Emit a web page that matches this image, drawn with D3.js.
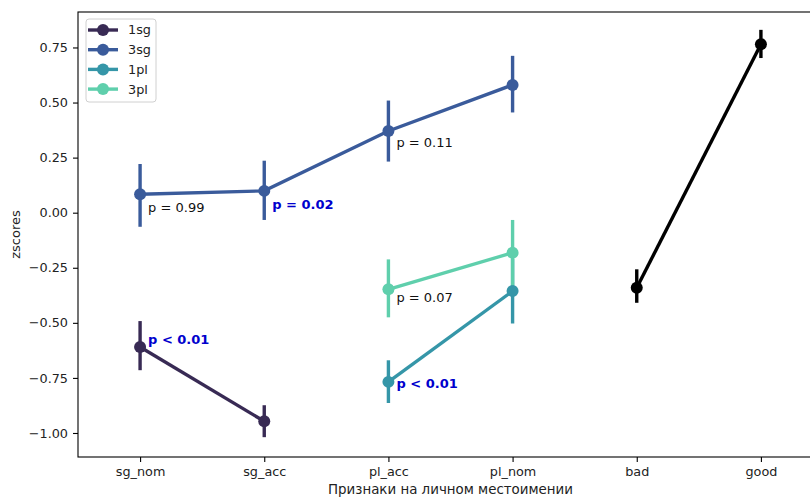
<!DOCTYPE html>
<html>
<head>
<meta charset="utf-8">
<script src="https://cdn.jsdelivr.net/npm/d3@7/dist/d3.min.js"></script>
<style>
  body { margin: 0; background: #fff; }
  text { font-family: "DejaVu Sans", sans-serif; }
</style>
</head>
<body>
<div id="chart"></div>
<script>
// categories on the x axis
var categories = ["sg_nom", "sg_acc", "pl_acc", "pl_nom", "bad", "good"];
var yTicks = [-1.00, -0.75, -0.50, -0.25, 0.00, 0.25, 0.50, 0.75];

// series: categories, means and CI bounds
var seriesNames = ["1sg", "3sg", "1pl", "3pl"];
var sg1Cats = ["sg_nom", "sg_acc"];
var sg1Mean = [-0.610, -0.947];
var sg1Low = [-0.715, -1.019];
var sg1High = [-0.492, -0.874];

var sg3Cats = ["sg_nom", "sg_acc", "pl_acc", "pl_nom"];
var sg3Mean = [0.084, 0.099, 0.371, 0.580];
var sg3Low = [-0.064, -0.033, 0.232, 0.455];
var sg3High = [0.221, 0.236, 0.509, 0.712];

var pl1Cats = ["pl_acc", "pl_nom"];
var pl1Mean = [-0.768, -0.356];
var pl1Low = [-0.864, -0.503];
var pl1High = [-0.670, -0.210];

var pl3Cats = ["pl_acc", "pl_nom"];
var pl3Mean = [-0.348, -0.182];
var pl3Low = [-0.475, -0.329];
var pl3High = [-0.212, -0.033];

var judgeCats = ["bad", "good"];
var judgeMean = [-0.341, 0.765];
var judgeLow = [-0.409, 0.702];
var judgeHigh = [-0.257, 0.830];

// p-value annotations (category, y value of baseline)
var noteText = ["p = 0.99", "p = 0.02", "p = 0.11", "p = 0.07", "p < 0.01", "p < 0.01"];
var noteCat = ["sg_nom", "sg_acc", "pl_acc", "pl_acc", "pl_acc", "sg_nom"];
var noteY = [0.003, 0.017, 0.30, -0.405, -0.797, -0.597];
var noteSig = [false, true, false, false, true, true];

var colors = ["#382a54", "#3a5b9b", "#3596a8", "#5fcfac"];

var svgWidth = 810;
var svgHeight = 497;
var margin = { top: 12, right: -13, bottom: 40, left: 78 };
var chartWidth = svgWidth - margin.left - margin.right;
var chartHeight = svgHeight - margin.top - margin.bottom;

var svg = d3.select("#chart")
  .append("svg")
  .attr("width", svgWidth)
  .attr("height", svgHeight);

var chart = svg.append("g")
  .attr("transform", `translate(${margin.left}, ${margin.top})`);

var x = d3.scalePoint()
  .domain(categories)
  .range([0, chartWidth])
  .padding(0.5);

var y = d3.scaleLinear()
  .domain([-1.109, 0.911])
  .range([chartHeight, 0]);

var fmt = function(d) { return d3.format(".2f")(d).replace("-", "\u2212"); };

// axes
var xAxis = chart.append("g")
  .attr("transform", `translate(0, ${chartHeight})`)
  .call(d3.axisBottom(x).tickSize(5).tickPadding(5));
var yAxis = chart.append("g")
  .call(d3.axisLeft(y).tickValues(yTicks).tickFormat(fmt).tickSize(5).tickPadding(5));

[xAxis, yAxis].forEach(function(a) {
  a.select(".domain").remove();
  a.selectAll("line").attr("stroke", "#000").attr("stroke-width", 1.1);
  a.selectAll("text").attr("fill", "#222").style("font-size", "12.8px")
    .style("font-family", "DejaVu Sans");
});

// frame
chart.append("rect")
  .attr("x", 0).attr("y", 0)
  .attr("width", chartWidth).attr("height", chartHeight)
  .attr("fill", "none").attr("stroke", "#000").attr("stroke-width", 1.1);

function drawSeries(cats, mean, low, high, color) {
  var pts = cats.map(function(c, i) {
    return { c: c, m: mean[i], lo: low[i], hi: high[i] };
  });
  var g = chart.append("g");
  g.selectAll("line.err")
    .data(pts)
    .enter().append("line")
      .attr("x1", function(d) { return x(d.c); })
      .attr("x2", function(d) { return x(d.c); })
      .attr("y1", function(d) { return y(d.lo); })
      .attr("y2", function(d) { return y(d.hi); })
      .attr("stroke", color)
      .attr("stroke-width", 3.4);
  g.append("path")
    .datum(pts)
    .attr("fill", "none")
    .attr("stroke", color)
    .attr("stroke-width", 3.4)
    .attr("d", d3.line().x(function(d) { return x(d.c); }).y(function(d) { return y(d.m); }));
  g.selectAll("circle")
    .data(pts)
    .enter().append("circle")
      .attr("cx", function(d) { return x(d.c); })
      .attr("cy", function(d) { return y(d.m); })
      .attr("r", 6)
      .attr("fill", color);
}

drawSeries(sg1Cats, sg1Mean, sg1Low, sg1High, colors[0]);
drawSeries(sg3Cats, sg3Mean, sg3Low, sg3High, colors[1]);
drawSeries(pl1Cats, pl1Mean, pl1Low, pl1High, colors[2]);
drawSeries(pl3Cats, pl3Mean, pl3Low, pl3High, colors[3]);
drawSeries(judgeCats, judgeMean, judgeLow, judgeHigh, "#000");

// annotations
noteText.forEach(function(t, i) {
  chart.append("text")
    .attr("x", x(noteCat[i]) + 8)
    .attr("y", y(noteY[i]))
    .style("font-size", "13px")
    .style("font-weight", noteSig[i] ? "bold" : "normal")
    .attr("fill", noteSig[i] ? "#0000cd" : "#111")
    .text(t);
});

// legend
var legend = chart.append("g").attr("transform", "translate(8, 7)");
legend.append("rect")
  .attr("width", 70).attr("height", 83)
  .attr("rx", 3)
  .attr("fill", "#fff").attr("fill-opacity", 0.8)
  .attr("stroke", "#d0d0d0");
seriesNames.forEach(function(name, i) {
  var row = legend.append("g").attr("transform", `translate(0, ${11 + i * 19.7})`);
  row.append("line")
    .attr("x1", 2).attr("x2", 32)
    .attr("stroke", colors[i]).attr("stroke-width", 3.4);
  row.append("circle").attr("cx", 17).attr("r", 6).attr("fill", colors[i]);
  row.append("text")
    .attr("x", 42).attr("dy", "0.35em")
    .style("font-size", "12.8px")
    .attr("fill", "#222")
    .text(name);
});

// axis labels
svg.append("text")
  .attr("x", margin.left + chartWidth / 2)
  .attr("y", 494)
  .style("text-anchor", "middle")
  .style("font-size", "13.4px")
  .attr("fill", "#222")
  .text("Признаки на личном местоимении");

svg.append("text")
  .attr("transform", `translate(20, ${margin.top + chartHeight / 2}) rotate(-90)`)
  .style("text-anchor", "middle")
  .style("font-size", "13px")
  .attr("fill", "#222")
  .text("zscores");
</script>
</body>
</html>
